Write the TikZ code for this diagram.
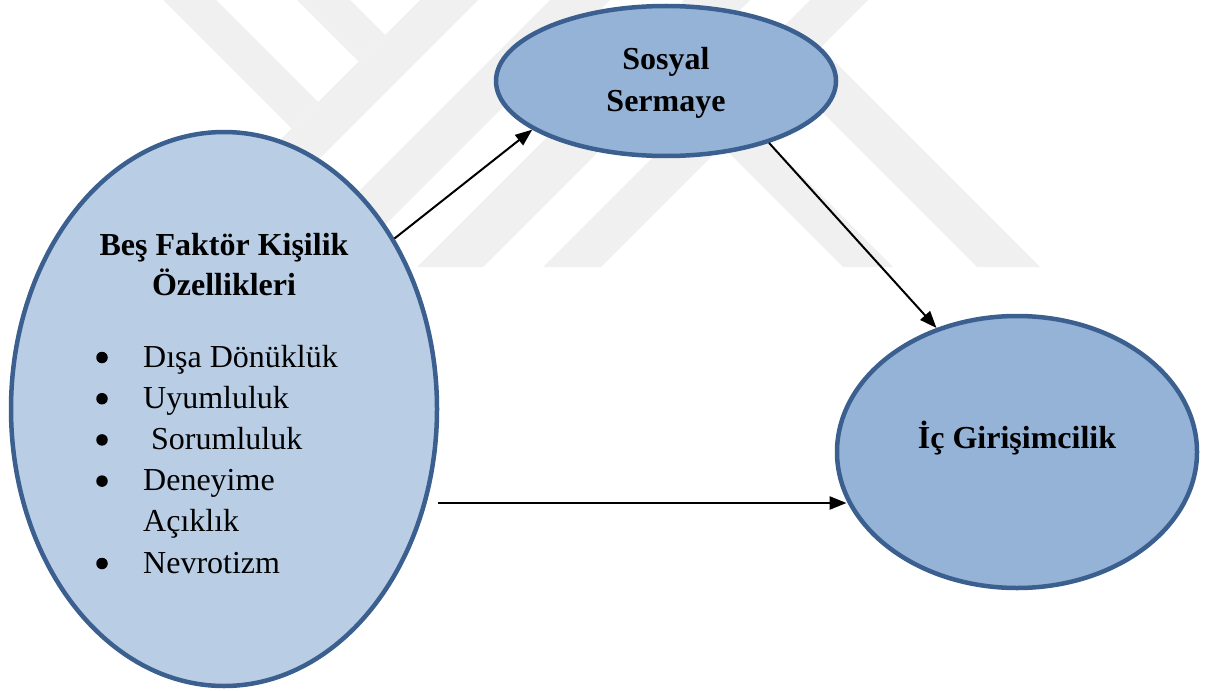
\documentclass[tikz,border=0pt]{standalone}
\usepackage{fontspec}
\setmainfont{Liberation Serif}
\usetikzlibrary{shapes.geometric,arrows.meta}

\definecolor{wmark}{RGB}{240,240,240}
\definecolor{bigfill}{HTML}{B9CDE5}
\definecolor{smallfill}{HTML}{95B3D7}
\definecolor{rim}{HTML}{3B5F8F}

\begin{document}
\begin{tikzpicture}[x=1pt,y=-1pt,
  blob/.style={ellipse, draw=rim, line width=4.5pt, inner sep=0pt},
  lbl/.style={anchor=base, inner sep=0pt, font=\fontsize{32}{38}\selectfont},
  head/.style={lbl, font=\fontsize{32}{38}\selectfont\bfseries},
  item/.style={lbl, anchor=base west},
  dot/.style={circle, fill=black, inner sep=0pt, minimum size=11.5pt},
  link/.style={-{Triangle[length=17pt,width=13pt]}, line width=2pt}
]
\useasboundingbox (0,0) rectangle (1206,690);

% faint striped emblem in the background
\begin{scope}
  \clip (0,0) rectangle (1206,267);
  \fill[wmark] (163,0) -- (216,0) -- (318,102) -- (291.5,128.5) -- cycle;
  \fill[wmark] (297,0) -- (350,0) -- (385,35) -- (358.5,61.5) -- cycle;
  \fill[wmark] (420,0) -- (478,0) -- (211,267) -- (153,267) -- cycle;
  \fill[wmark] (550,0) -- (610,0) -- (343,267) -- (283,267) -- cycle;
  \fill[wmark] (684,0) -- (750,0) -- (483,267) -- (417,267) -- cycle;
  \fill[wmark] (810,0) -- (868,0) -- (601,267) -- (543,267) -- cycle;
  \fill[wmark] (663,87) -- (688,62) -- (893,267) -- (843,267) -- cycle;
  \fill[wmark] (789,79) -- (820.5,47.5) -- (1040,267) -- (977,267) -- cycle;
\end{scope}

% the three constructs
\node[blob, fill=bigfill, minimum width=426pt, minimum height=554pt] (L) at (224,409) {};
\node[blob, fill=smallfill, minimum width=340pt, minimum height=150pt] (S) at (666,81) {};
\node[blob, fill=smallfill, minimum width=360pt, minimum height=272pt] (I) at (1017,452) {};

% labels
\node[head] (t1) at (224,255) {Beş Faktör Kişilik};
\node[head] (t2) at (224,295) {Özellikleri};

\node[dot] (d1) at (102,357.5) {};
\node[dot] (d2) at (102,398.7) {};
\node[dot] (d3) at (102,439.9) {};
\node[dot] (d4) at (102,481.1) {};
\node[dot] (d5) at (102,563.5) {};

\node[item] (i1) at (143,367) {Dışa Dönüklük};
\node[item] (i2) at (143,408.2) {Uyumluluk};
\node[item] (i3) at (151,449.4) {Sorumluluk};
\node[item] (i4) at (143,490.6) {Deneyime};
\node[item] (i4b) at (143,531.8) {Açıklık};
\node[item] (i5) at (143,573) {Nevrotizm};

\node[head] (s1) at (666,70) {Sosyal};
\node[head] (s2) at (666,112) {Sermaye};

\node[head] (g1) at (1017,448) {İç Girişimcilik};

% relations
\draw[link] (L.45.5) -- (S.200.5);
\draw[link] (S.-31.5) -- (I.123);
\coordinate (h) at (438,503);
\draw[link, line width=2.5pt] (h) -- (h -| I.196.7);
\end{tikzpicture}
\end{document}
